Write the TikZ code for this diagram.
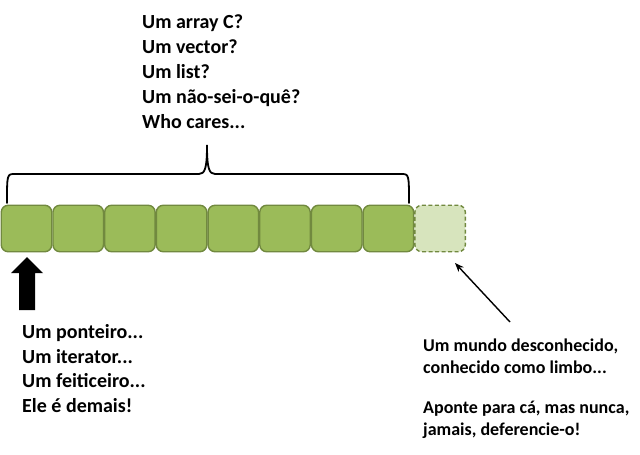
\documentclass[tikz,border=0pt]{standalone}
\usepackage{fontspec}
\setmainfont{Carlito}
\usetikzlibrary{arrows.meta}
\definecolor{cellfill}{HTML}{9BBB59}
\definecolor{celledge}{HTML}{71893F}
\definecolor{ghostfill}{HTML}{D7E4BD}
\tikzset{
  cell/.style={draw=celledge, fill=cellfill, line width=1.4pt, rounded corners=7pt,
    minimum width=50.5pt, minimum height=46.5pt, inner sep=0pt},
  ghost/.style={cell, fill=ghostfill, dash pattern=on 4pt off 2.5pt},
  labeltop/.style={font=\bfseries\fontsize{20}{25}\selectfont, align=left, inner sep=0pt, anchor=base west},
  label20/.style={font=\bfseries\fontsize{20}{24.5}\selectfont, align=left, inner sep=0pt, anchor=base west},
  label18/.style={font=\bfseries\fontsize{18}{22}\selectfont, align=left, inner sep=0pt, anchor=base west},
  bracestyle/.style={line width=1.8pt, line cap=round},
}
\begin{document}
\begin{tikzpicture}[x=1pt,y=-1pt]
\useasboundingbox (0,0) rectangle (640,455);
\foreach \i in {0,...,7} {
  \node[cell] (c\i) at (26.5+51.7*\i, 228.5) {};
}
\node[ghost] (g) at (440.1, 228.5) {};
% brace
\draw[bracestyle] (7,203) .. controls (7,174) .. (15,174) -- (199,174)
  .. controls (205,174) and (207,168) .. (207,145)
  .. controls (207,168) and (209,174) .. (215,174) -- (401,174)
  .. controls (409,174) .. (409,203);
\node[labeltop] (top) at (142,128) {Um array C?\\Um vector?\\Um list?\\Um não-sei-o-quê?\\Who cares...};
\node[label20] (ptr) at (22,412) {Um ponteiro...\\Um iterator...\\Um feiticeiro...\\Ele é demais!};
\node[label18] (limbo) at (423,435) {Um mundo desconhecido,\\conhecido como limbo...\\[18pt]Aponte para cá, mas nunca,\\jamais, deferencie-o!};
% thick arrow
\fill (19,310) -- (19,273) -- (11,273) -- (27,257) -- (43,273) -- (35,273) -- (35,310) -- cycle;
% thin arrow
\coordinate (from) at (510,322);
\coordinate (to) at (455,263);
\draw[line width=1.4pt, -{Stealth[length=9pt,width=7pt]}] (from) -- (to);
\end{tikzpicture}
\end{document}
